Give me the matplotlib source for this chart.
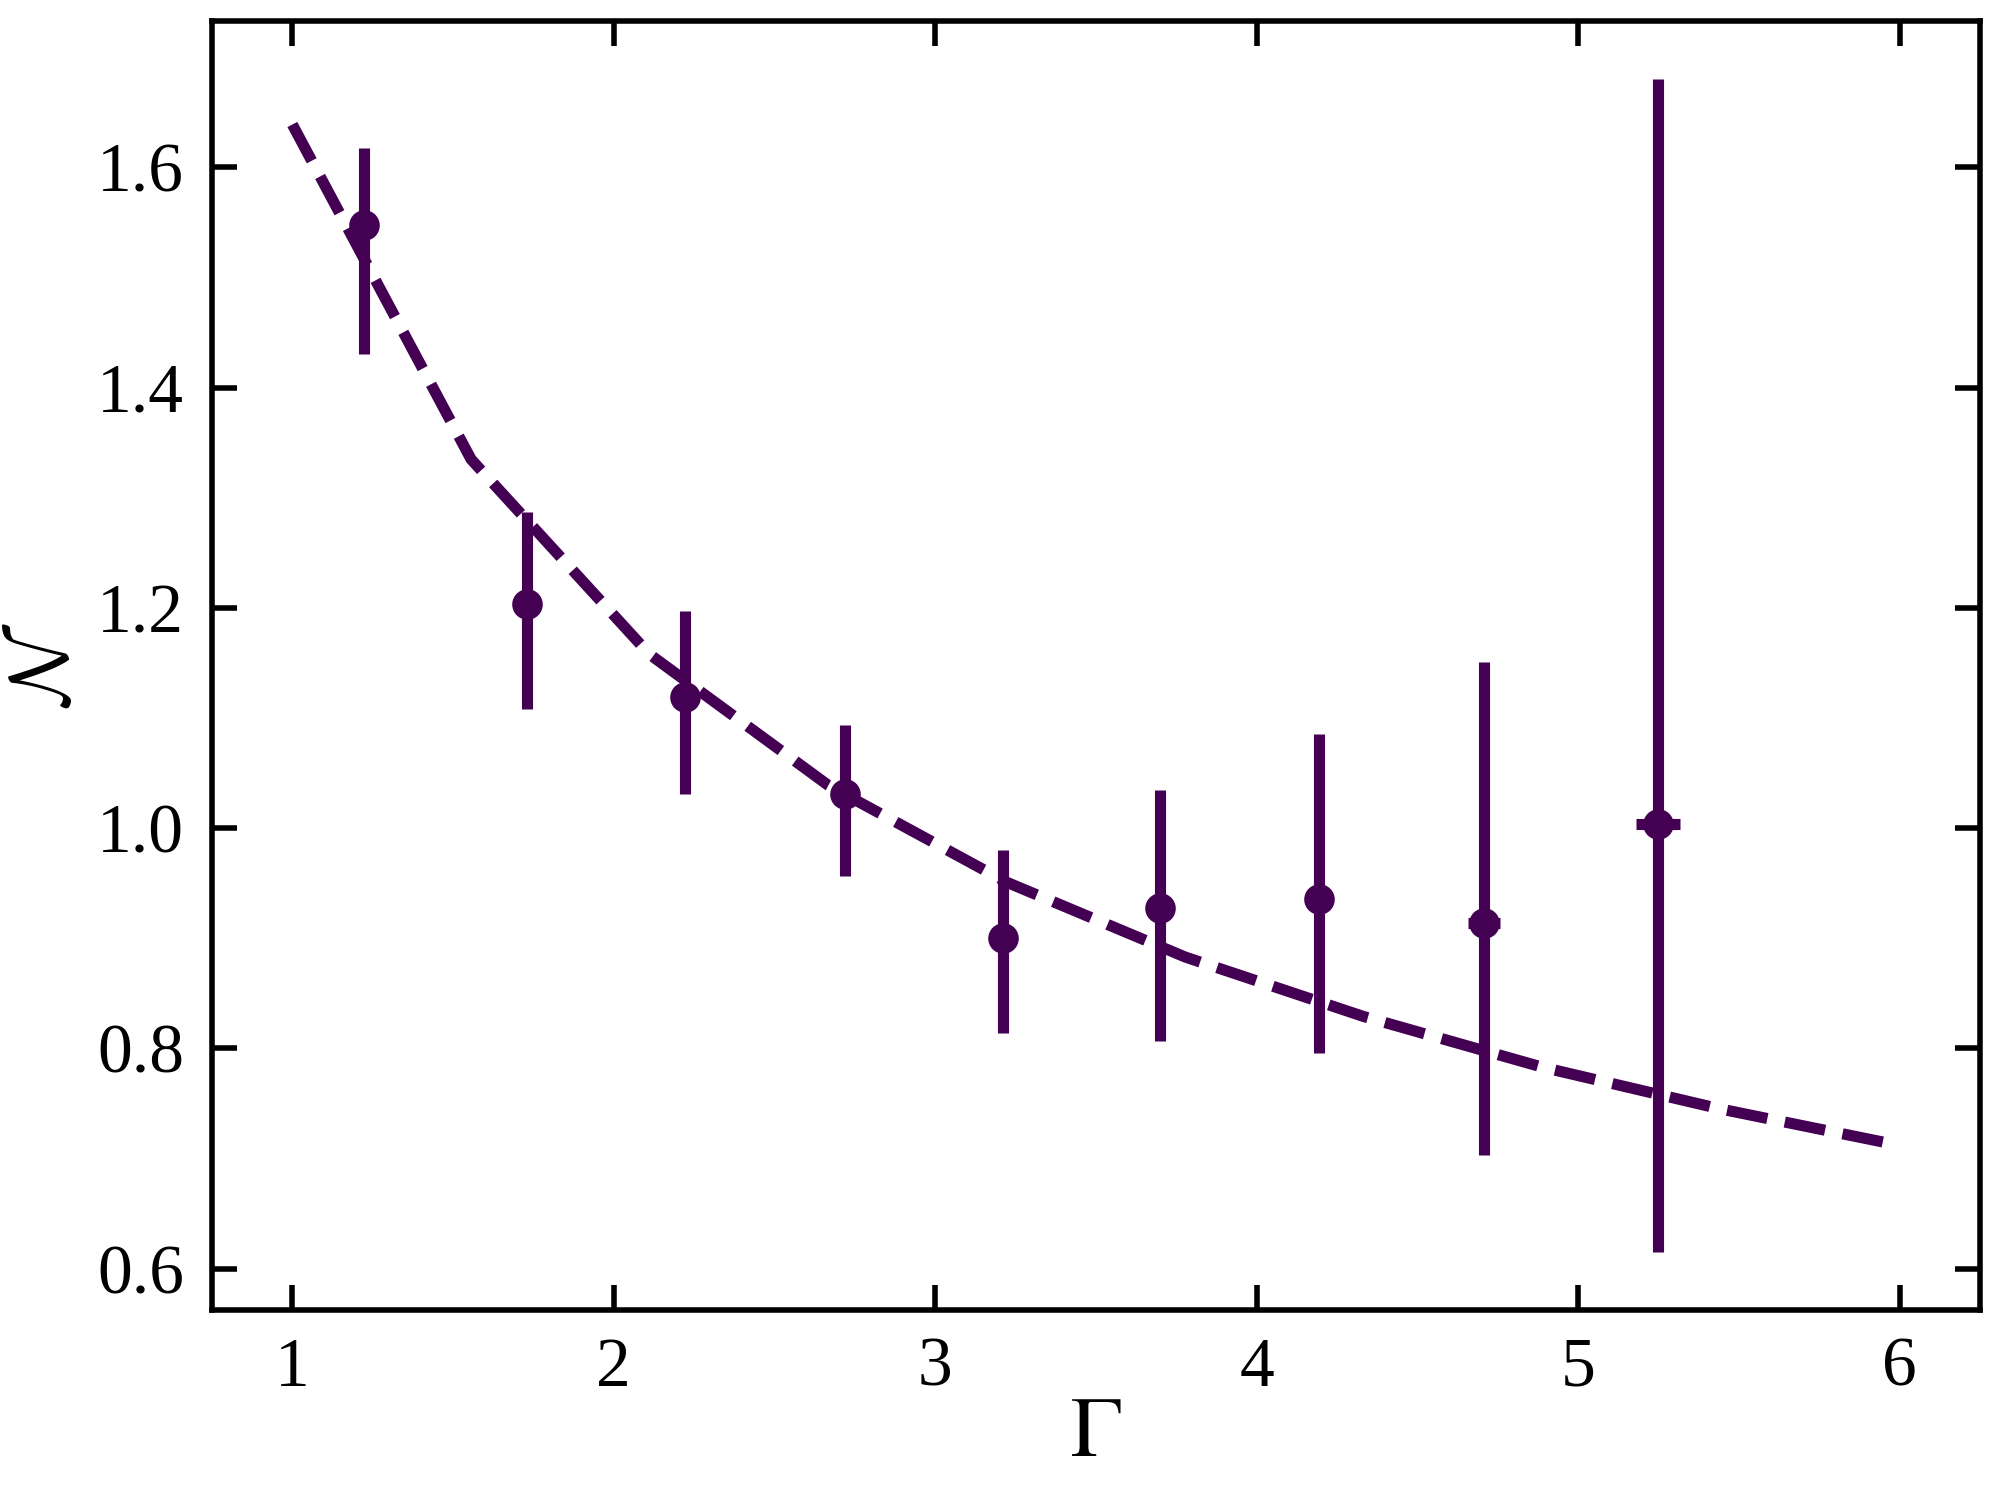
import numpy as np
import matplotlib
matplotlib.use("Agg")
import matplotlib.pyplot as plt

plt.rcParams['font.family'] = ['Liberation Serif', 'STIXGeneral']
plt.rcParams['mathtext.fontset'] = 'stix'

# Data points
gamma = [1.222, 1.731, 2.222, 2.719, 3.212, 3.700, 4.193, 4.707, 5.249]
n_val = [1.548, 1.204, 1.119, 1.031, 0.900, 0.928, 0.936, 0.914, 1.004]
n_upper = [1.618, 1.287, 1.197, 1.094, 0.980, 1.035, 1.086, 1.151, 1.680]
n_lower = [1.431, 1.108, 1.031, 0.957, 0.814, 0.807, 0.796, 0.703, 0.615]
gamma_err = [0.03, 0.03, 0.03, 0.03, 0.03, 0.03, 0.03, 0.05, 0.068]

# Fit curve (dashed)
fit_gamma = [1.000, 1.556, 2.111, 2.667, 3.222, 3.778, 4.333, 4.889, 5.444, 6.000]
fit_n = [1.639, 1.335, 1.158, 1.039, 0.951, 0.883, 0.829, 0.783, 0.745, 0.712]

color = '#440154'

fig = plt.figure(figsize=(10, 7.5), dpi=200)
ax = fig.add_axes([0.106, 0.127, 0.884, 0.859])

yerr = [np.array(n_val) - np.array(n_lower), np.array(n_upper) - np.array(n_val)]
ax.errorbar(gamma, n_val, yerr=yerr, xerr=gamma_err, fmt='o', color=color,
            ms=10, elinewidth=4, capsize=0, zorder=3)
ax.plot(fit_gamma, fit_n, '--', color=color, lw=4, zorder=2)

ax.set_xlim(0.75, 6.25)
ax.set_ylim(0.563, 1.733)
ax.set_xticks([1, 2, 3, 4, 5, 6])
ax.set_yticks([0.6, 0.8, 1.0, 1.2, 1.4, 1.6])
ax.set_yticklabels(['0.6', '0.8', '1.0', '1.2', '1.4', '1.6'])

ax.tick_params(direction='in', top=True, right=True, length=9, width=2,
               labelsize=25, pad=10)
for s in ax.spines.values():
    s.set_linewidth(2)

ax.set_xlabel(r'$\Gamma$', fontsize=31, labelpad=-2)
ax.set_ylabel(r'$\mathcal{N}$', fontsize=30, labelpad=4, math_fontfamily='cm')

fig.savefig('out.png', dpi=200)
